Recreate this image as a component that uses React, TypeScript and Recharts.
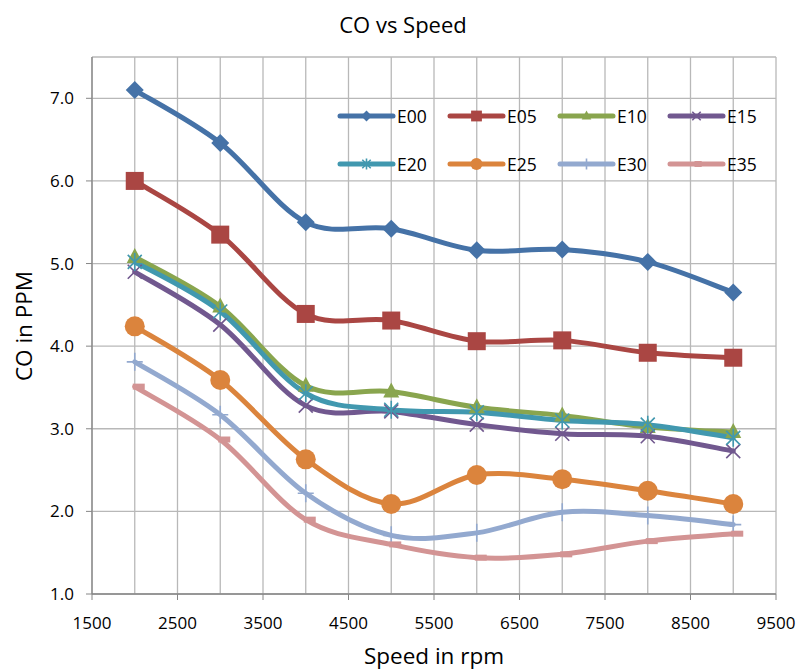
import React from "react";
import { LineChart, Line, XAxis, YAxis, CartesianGrid } from "recharts";

// speeds (rpm) and CO readings (ppm) per blend
const speeds = [2000, 3000, 4000, 5000, 6000, 7000, 8000, 9000];
const e00 = [7.1, 6.46, 5.5, 5.42, 5.16, 5.17, 5.02, 4.65];
const e05 = [6.0, 5.35, 4.39, 4.31, 4.06, 4.07, 3.92, 3.86];
const e10 = [5.08, 4.48, 3.52, 3.45, 3.26, 3.16, 3.02, 2.96];
const e15 = [4.9, 4.26, 3.28, 3.21, 3.05, 2.94, 2.91, 2.73];
const e20 = [5.02, 4.42, 3.43, 3.23, 3.2, 3.1, 3.05, 2.89];
const e25 = [4.24, 3.59, 2.63, 2.09, 2.44, 2.39, 2.25, 2.09];
const e30 = [3.81, 3.17, 2.22, 1.71, 1.74, 1.99, 1.95, 1.84];
const e35 = [3.51, 2.87, 1.9, 1.6, 1.44, 1.48, 1.64, 1.73];

const xTicks = [1500, 2000, 2500, 3000, 3500, 4000, 4500, 5000, 5500, 6000, 6500, 7000, 7500, 8000, 8500, 9000, 9500];
const yTicks = [1, 2, 3, 4, 5, 6, 7];

const series = [
  { key: "E00", values: e00, color: "#4572A7", marker: "diamond" },
  { key: "E05", values: e05, color: "#AA4643", marker: "square" },
  { key: "E10", values: e10, color: "#89A54E", marker: "triangle" },
  { key: "E15", values: e15, color: "#71588F", marker: "x" },
  { key: "E20", values: e20, color: "#4198AF", marker: "star" },
  { key: "E25", values: e25, color: "#DB843D", marker: "circle" },
  { key: "E30", values: e30, color: "#93A9CF", marker: "plus" },
  { key: "E35", values: e35, color: "#D39494", marker: "dash" },
];

const data = speeds.map((s, i) => {
  const row: any = { speed: s };
  series.forEach((se) => (row[se.key] = se.values[i]));
  return row;
});

const FONT = "'Open Sans', 'Noto Sans', sans-serif";
const AXIS = "#868686";

// Excel-style smoothed line (Catmull-Rom through the points)
function smoothCurve(context: any) {
  let pts: number[][] = [];
  return {
    areaStart() {},
    areaEnd() {},
    lineStart() {
      pts = [];
    },
    point(x: number, y: number) {
      pts.push([+x, +y]);
    },
    lineEnd() {
      if (!pts.length) return;
      context.moveTo(pts[0][0], pts[0][1]);
      for (let i = 0; i < pts.length - 1; i++) {
        const p0 = pts[i - 1] || pts[i];
        const p1 = pts[i];
        const p2 = pts[i + 1];
        const p3 = pts[i + 2] || pts[i + 1];
        context.bezierCurveTo(
          p1[0] + (p2[0] - p0[0]) / 6,
          p1[1] + (p2[1] - p0[1]) / 6,
          p2[0] - (p3[0] - p1[0]) / 6,
          p2[1] - (p3[1] - p1[1]) / 6,
          p2[0],
          p2[1]
        );
      }
    },
  };
}

function marker(kind: string, cx: number, cy: number, color: string, s: number) {
  switch (kind) {
    case "diamond":
      return <path d={`M${cx},${cy - 9 * s}L${cx + 9 * s},${cy}L${cx},${cy + 9 * s}L${cx - 9 * s},${cy}Z`} fill={color} />;
    case "square":
      return <rect x={cx - 9 * s} y={cy - 9 * s} width={18 * s} height={18 * s} fill={color} />;
    case "triangle":
      return <path d={`M${cx},${cy - 9 * s}L${cx + 8 * s},${cy + 6 * s}L${cx - 8 * s},${cy + 6 * s}Z`} fill={color} />;
    case "x":
      return (
        <path d={`M${cx - 7 * s},${cy - 7 * s}L${cx + 7 * s},${cy + 7 * s}M${cx + 7 * s},${cy - 7 * s}L${cx - 7 * s},${cy + 7 * s}`} stroke={color} strokeWidth={1.6} />
      );
    case "star":
      return (
        <path
          d={`M${cx - 7 * s},${cy - 7 * s}L${cx + 7 * s},${cy + 7 * s}M${cx + 7 * s},${cy - 7 * s}L${cx - 7 * s},${cy + 7 * s}M${cx},${cy - 9 * s}L${cx},${cy + 9 * s}`}
          stroke={color}
          strokeWidth={1.6}
        />
      );
    case "circle":
      return <circle cx={cx} cy={cy} r={10 * s} fill={color} />;
    case "plus":
      return <path d={`M${cx - 8 * s},${cy}L${cx + 8 * s},${cy}M${cx},${cy - 9 * s}L${cx},${cy + 9 * s}`} stroke={color} strokeWidth={1.6} />;
    case "dash":
      return <rect x={cx - 2} y={cy - 3} width={12 * s} height={6} fill={color} />;
  }
  return null;
}

const makeDot = (kind: string, color: string) => (props: any) => {
  const { cx, cy, index } = props;
  if (cx == null || cy == null) return <g key={index} />;
  return <g key={index}>{marker(kind, cx, cy, color, 1)}</g>;
};

const XTick = (props: any) => {
  const { x, y, payload } = props;
  const v = payload.value;
  if ((v - 1500) % 1000 !== 0) return <g />;
  return (
    <g>
      <line x1={x} x2={x} y1={y} y2={y + 6} stroke={AXIS} />
      <text x={x} y={y + 35} textAnchor="middle" fontSize={17} fontFamily={FONT} fill="#000">
        {v}
      </text>
    </g>
  );
};

export default function App() {
  return (
    <div style={{ position: "absolute", left: 0, top: 0, width: 798, height: 670, background: "#fff", fontFamily: FONT }}>
      <LineChart width={798} height={670} data={data} margin={{ top: 57, right: 22, left: 32, bottom: 36 }}>
        <CartesianGrid stroke="#B8B8B8" strokeWidth={1.3} />
        <XAxis
          dataKey="speed"
          type="number"
          domain={[1500, 9500]}
          ticks={xTicks}
          interval={0}
          tick={<XTick />}
          tickLine={false}
          tickSize={0}
          tickMargin={0}
          height={40}
          axisLine={{ stroke: AXIS, strokeWidth: 1.3 }}
        />
        <YAxis
          type="number"
          domain={[1, 7.5]}
          ticks={yTicks}
          interval={0}
          width={60}
          allowDataOverflow
          tickFormatter={(v: number) => v.toFixed(1)}
          tick={{ fontSize: 17, fontFamily: FONT, fill: "#000" }}
          tickSize={6}
          tickMargin={12}
          tickLine={{ stroke: AXIS }}
          axisLine={{ stroke: AXIS, strokeWidth: 1.3 }}
        />
        {series.map((se) => (
          <Line
            key={se.key}
            dataKey={se.key}
            type={smoothCurve as any}
            stroke={se.color}
            strokeWidth={5}
            strokeLinecap="round"
            dot={makeDot(se.marker, se.color)}
            activeDot={false}
            isAnimationActive={false}
          />
        ))}
      </LineChart>

      {/* title and axis titles */}
      <div style={{ position: "absolute", left: 0, width: 806, top: 9, textAlign: "center", fontSize: 22, color: "#000" }}>CO vs Speed</div>
      <div style={{ position: "absolute", left: 92, width: 684, top: 640, textAlign: "center", fontSize: 22.5, color: "#000" }}>Speed in rpm</div>
      <div
        style={{
          position: "absolute",
          left: 23,
          top: 326,
          transform: "translate(-50%, -50%) rotate(-90deg)",
          whiteSpace: "nowrap",
          fontSize: 22.5,
          color: "#000",
        }}
      >
        CO in PPM
      </div>

      {/* legend, 2 rows x 4 columns inside the plot */}
      {series.map((se, i) => {
        const col = i % 4;
        const row = Math.floor(i / 4);
        const left = 336 + col * 110;
        const top = 116 + row * 48;
        return (
          <div key={se.key} style={{ position: "absolute", left, top: top - 12, height: 24, display: "flex", alignItems: "center" }}>
            <svg width={60} height={24} style={{ display: "block" }}>
              <line x1={4} x2={57} y1={12} y2={12} stroke={se.color} strokeWidth={5} strokeLinecap="round" />
              {marker(se.marker, 30.5, 12, se.color, 0.6)}
            </svg>
            <span style={{ fontSize: 17.5, color: "#000", marginLeft: 1 }}>{se.key}</span>
          </div>
        );
      })}
    </div>
  );
}
